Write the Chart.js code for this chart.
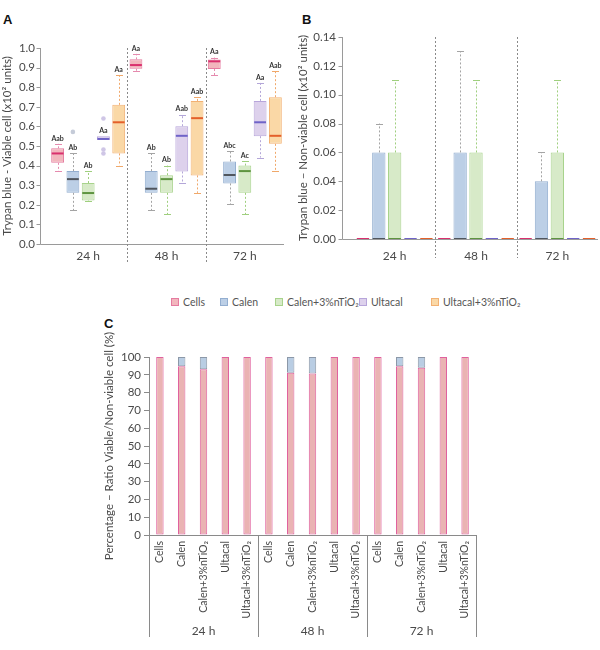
<!DOCTYPE html>
<html>
<head>
<meta charset="utf-8">
<script src="https://cdn.jsdelivr.net/npm/chart.js@4/dist/chart.umd.min.js"></script>
<style>
  body { margin: 0; background: #fff; font-family: Lato, sans-serif; }
  #page { position: relative; width: 600px; height: 650px; overflow: hidden; }
  .holder { position: absolute; }
  .tag { position: absolute; font: bold 13px "Liberation Sans", Arial, sans-serif; color: #111; }
  .key { position: absolute; top: 295px; font-size: 10.5px; color: #555; white-space: nowrap; line-height: 14px; }
  .key i { display: inline-block; width: 6px; height: 6px; border: 1px solid; margin-right: 4px; vertical-align: 0px; }
</style>
</head>
<body>
<div id="page">
  <div class="tag" style="left:3px;top:12px">A</div>
  <div class="tag" style="left:302px;top:12px">B</div>
  <div class="tag" style="left:104px;top:316px">C</div>
  <div class="holder" style="left:0;top:0"><canvas id="viableChart" width="290" height="275"></canvas></div>
  <div class="holder" style="left:295px;top:0"><canvas id="nonViableChart" width="305" height="275"></canvas></div>
  <div id="legend"></div>
  <div class="holder" style="left:0;top:330px"><canvas id="ratioChart" width="600" height="320"></canvas></div>
</div>
<script>
// categories
const timePoints = ['24 h', '48 h', '72 h'];
const groupNames = ['Cells', 'Calen', 'Calen+3%nTiO\u2082', 'Ultacal', 'Ultacal+3%nTiO\u2082'];

// A: viable cells, one row per group, one column per time point
const viableMin = [[0.37, 0.884, 0.862], [0.172, 0.172, 0.202], [0.22, 0.153, 0.153], [0.53, 0.311, 0.441], [0.40, 0.261, 0.372]];
const viableQ1 = [[0.414, 0.894, 0.893], [0.261, 0.261, 0.309], [0.222, 0.261, 0.261], [0.53, 0.37, 0.55], [0.462, 0.35, 0.511]];
const viableMedian = [[0.462, 0.913, 0.932], [0.331, 0.282, 0.352], [0.26, 0.331, 0.372], [0.536, 0.552, 0.621], [0.621, 0.642, 0.552]];
const viableQ3 = [[0.488, 0.942, 0.941], [0.372, 0.372, 0.421], [0.311, 0.351, 0.40], [0.55, 0.601, 0.73], [0.71, 0.73, 0.749]];
const viableMax = [[0.511, 0.97, 0.951], [0.462, 0.462, 0.475], [0.37, 0.40, 0.421], [0.55, 0.66, 0.822], [0.862, 0.75, 0.881]];
const viableOutliers = [[[], [], []], [[0.572], [], []], [[], [], []], [[0.64, 0.482, 0.462], [], []], [[], [], []]];
const viableLetters = [['Aab', 'Aa', 'Aa'], ['Ab', 'Ab', 'Abc'], ['Ab', 'Ab', 'Ac'], ['Aa', 'Aab', 'Aa'], ['Aa', 'Aab', 'Aab']];
const viableTicks = [0, 0.1, 0.2, 0.3, 0.4, 0.5, 0.6, 0.7, 0.8, 0.9, 1.0];

// B: non-viable cells
const nonViableQ1 = [[0, 0, 0], [0, 0, 0], [0, 0, 0], [0, 0, 0], [0, 0, 0]];
const nonViableMedian = [[0, 0, 0], [0, 0, 0], [0, 0, 0], [0, 0, 0], [0, 0, 0]];
const nonViableQ3 = [[0, 0, 0], [0.06, 0.06, 0.04], [0.06, 0.06, 0.06], [0, 0, 0], [0, 0, 0]];
const nonViableMax = [[0, 0, 0], [0.08, 0.13, 0.06], [0.11, 0.11, 0.11], [0, 0, 0], [0, 0, 0]];
const nonViableTicks = [0, 0.02, 0.04, 0.06, 0.08, 0.10, 0.12, 0.14];

// C: percentage viable / non-viable, 15 bars (5 groups x 3 times)
const viablePercent = [100, 94.8, 93.1, 100, 100, 100, 91.2, 90.7, 100, 100, 100, 94.8, 94.0, 100, 100];
const nonViablePercent = [0, 5.2, 6.9, 0, 0, 0, 8.8, 9.3, 0, 0, 0, 5.2, 6.0, 0, 0];
const percentTicks = [0, 10, 20, 30, 40, 50, 60, 70, 80, 90, 100];

// colours per group
const boxFill = ['#f2b6bd', '#bccfe6', '#d7eac8', '#ddd1ec', '#fad8a6'];
const boxEdge = ['#e57ba0', '#93aed0', '#a8d38c', '#b7a5da', '#f2b173'];
const medianColor = ['#d9306d', '#50565e', '#5e9440', '#6f63c8', '#e4602a'];
const whiskerColor = ['#e58aae', '#a4a4a4', '#9fcf7e', '#b3a6d8', '#f0a86a'];
const outlierColor = ['#f2b6bd', '#c5cbd8', '#d7eac8', '#cfc6e6', '#fad8a6'];

const textColor = '#4a4a4a';
const tickFont = { family: 'Lato', size: 11.5 };

Chart.defaults.font.family = 'Lato';
Chart.defaults.color = textColor;
Chart.defaults.animation = false;

// legend
const legend = document.getElementById('legend');
const legendLeft = [171, 220, 275, 359, 431];
groupNames.forEach((name, i) => {
    const el = document.createElement('div');
    el.className = 'key';
    el.style.left = legendLeft[i] + 'px';
    el.innerHTML = '<i style="background:' + boxFill[i] + ';border-color:' + boxEdge[i] + '"></i>' + name;
    legend.appendChild(el);
});

// draws the y axis line a few px left of the plot, tick marks and dashed dividers
const axisFrame = {
    id: 'axisFrame',
    afterDraw(chart, args, o) {
        const { ctx, chartArea: a, scales: { x, y } } = chart;
        const left = a.left - o.gap + 0.5;
        const bottom = Math.round(a.bottom) + 0.5;
        ctx.save();
        ctx.strokeStyle = '#9a9a9a';
        ctx.lineWidth = 1;
        ctx.beginPath();
        ctx.moveTo(left, a.top);
        ctx.lineTo(left, bottom);
        ctx.lineTo(a.right, bottom);
        y.ticks.forEach(t => {
            const py = Math.round(y.getPixelForValue(t.value)) + 0.5;
            ctx.moveTo(left - 4, py);
            ctx.lineTo(left, py);
        });
        ctx.stroke();
        ctx.strokeStyle = '#8a8a8a';
        ctx.setLineDash([2, 2]);
        ctx.beginPath();
        for (let j = 1; j < x.ticks.length; j++) {
            const px = Math.round((x.getPixelForValue(j - 1) + x.getPixelForValue(j)) / 2) + 0.5;
            ctx.moveTo(px, a.top);
            ctx.lineTo(px, a.bottom + 19);
        }
        ctx.stroke();
        ctx.restore();
    }
};

// whiskers, medians, outliers and letters on top of the floating bars
function boxPlugin(stats) {
    return {
        id: 'boxWhisker',
        afterDatasetsDraw(chart) {
            const ctx = chart.ctx;
            const y = chart.scales.y;
            chart.data.datasets.forEach((ds, i) => {
                chart.getDatasetMeta(i).data.forEach((bar, j) => {
                    const x = Math.round(bar.x) + 0.5;
                    const half = bar.width / 2;
                    const q1 = ds.data[j][0], q3 = ds.data[j][1];
                    const lo = stats.min[i][j], hi = stats.max[i][j];
                    ctx.save();
                    ctx.lineWidth = 1;
                    ctx.strokeStyle = whiskerColor[i];
                    ctx.setLineDash([2, 2]);
                    ctx.beginPath();
                    if (hi > q3) { ctx.moveTo(x, y.getPixelForValue(q3)); ctx.lineTo(x, y.getPixelForValue(hi)); }
                    if (lo < q1) { ctx.moveTo(x, y.getPixelForValue(q1)); ctx.lineTo(x, y.getPixelForValue(lo)); }
                    ctx.stroke();
                    ctx.setLineDash([]);
                    ctx.beginPath();
                    [[hi, hi > q3], [lo, lo < q1]].forEach(([v, show]) => {
                        if (!show) return;
                        const py = Math.round(y.getPixelForValue(v)) + 0.5;
                        ctx.moveTo(x - 3.5, py);
                        ctx.lineTo(x + 3.5, py);
                    });
                    ctx.stroke();
                    // median
                    const pm = y.getPixelForValue(stats.median[i][j]);
                    ctx.strokeStyle = medianColor[i];
                    ctx.lineWidth = 2;
                    ctx.beginPath();
                    ctx.moveTo(bar.x - half + 0.5, pm);
                    ctx.lineTo(bar.x + half - 0.5, pm);
                    ctx.stroke();
                    // outliers
                    (stats.outliers ? stats.outliers[i][j] : []).forEach(v => {
                        ctx.beginPath();
                        ctx.arc(bar.x, y.getPixelForValue(v), 2.3, 0, Math.PI * 2);
                        ctx.fillStyle = outlierColor[i];
                        ctx.fill();
                    });
                    // significance letters
                    if (stats.letters) {
                        ctx.fillStyle = '#333';
                        ctx.font = 'bold 7px Lato';
                        ctx.textAlign = 'center';
                        ctx.textBaseline = 'middle';
                        ctx.fillText(stats.letters[i][j], bar.x, y.getPixelForValue(hi) - 5.5);
                    }
                    ctx.restore();
                });
            });
        }
    };
}

function boxDatasets(q1, q3) {
    return groupNames.map((name, i) => ({
        label: name,
        data: timePoints.map((t, j) => [q1[i][j], q3[i][j]]),
        backgroundColor: boxFill[i],
        borderColor: boxEdge[i],
        borderWidth: 1,
        borderSkipped: false,
        categoryPercentage: 0.975,
        barPercentage: 0.84
    }));
}

function boxOptions(cfg) {
    return {
        responsive: false,
        layout: { padding: cfg.padding },
        plugins: {
            legend: { display: false },
            tooltip: { enabled: false },
            axisFrame: { gap: cfg.gap }
        },
        scales: {
            x: {
                grid: { display: false, drawTicks: false },
                border: { display: false },
                ticks: { font: { family: 'Lato', size: 12 }, color: textColor, padding: cfg.xPad },
                afterFit: s => { s.height = cfg.xHeight; }
            },
            y: {
                min: cfg.ticks[0],
                max: cfg.ticks[cfg.ticks.length - 1],
                grid: { display: false, drawTicks: false },
                border: { display: false },
                afterBuildTicks: s => { s.ticks = cfg.ticks.map(v => ({ value: v })); },
                ticks: {
                    font: tickFont, color: textColor, padding: cfg.yPad,
                    callback: v => v.toFixed(cfg.decimals)
                },
                title: { display: true, text: cfg.title, font: { size: 11.5 }, color: textColor, padding: { top: 0, bottom: 0 } },
                afterFit: s => { s.width = cfg.yWidth; }
            }
        }
    };
}

new Chart(document.getElementById('viableChart'), {
    type: 'bar',
    data: { labels: timePoints, datasets: boxDatasets(viableQ1, viableQ3) },
    options: boxOptions({
        padding: { top: 48, right: 6, left: 0 },
        gap: 9, xPad: 5, xHeight: 31, yPad: 14, yWidth: 49, decimals: 1,
        ticks: viableTicks, title: 'Trypan blue - Viable cell (x10\u00b2 units)'
    }),
    plugins: [axisFrame, boxPlugin({ min: viableMin, max: viableMax, median: viableMedian, outliers: viableOutliers, letters: viableLetters })]
});

new Chart(document.getElementById('nonViableChart'), {
    type: 'bar',
    data: { labels: timePoints, datasets: boxDatasets(nonViableQ1, nonViableQ3) },
    options: boxOptions({
        padding: { top: 37, right: 2, left: 1 },
        gap: 12, xPad: 10, xHeight: 36, yPad: 18, yWidth: 58, decimals: 2,
        ticks: nonViableTicks, title: 'Trypan blue \u2013 Non-viable cell (x10\u00b2 units)'
    }),
    plugins: [axisFrame, boxPlugin({ min: nonViableQ1, max: nonViableMax, median: nonViableMedian })]
});

// vertical separators under the grouped x axis of panel C
const groupSeparators = {
    id: 'groupSeparators',
    afterDraw(chart) {
        const { ctx, chartArea: a, scales: { x, x2 } } = chart;
        const per = groupNames.length;
        ctx.save();
        ctx.strokeStyle = '#8a8a8a';
        ctx.lineWidth = 1;
        ctx.beginPath();
        for (let g = 0; g <= timePoints.length; g++) {
            let px;
            if (g === 0) px = a.left;
            else if (g === timePoints.length) px = a.right;
            else px = (x.getPixelForValue(g * per - 1) + x.getPixelForValue(g * per)) / 2;
            px = Math.round(px) + 0.5;
            ctx.moveTo(px, a.bottom);
            ctx.lineTo(px, x2.bottom - 13);
        }
        ctx.stroke();
        ctx.restore();
    }
};

new Chart(document.getElementById('ratioChart'), {
    type: 'bar',
    data: {
        labels: timePoints.flatMap(() => groupNames),
        datasets: [
            { label: 'Viable', data: viablePercent, backgroundColor: '#eab3b3', borderColor: '#e0619e', borderWidth: 1, borderSkipped: false },
            { label: 'Non-viable', data: nonViablePercent, backgroundColor: '#b9cde3', borderColor: '#8c98a8', borderWidth: 1, borderSkipped: false }
        ]
    },
    options: {
        responsive: false,
        layout: { padding: { top: 27, left: 90, right: 124 } },
        datasets: { bar: { categoryPercentage: 1, barPercentage: 0.34 } },
        plugins: { legend: { display: false }, tooltip: { enabled: false } },
        scales: {
            x: {
                stacked: true,
                weight: 0,
                grid: { display: false, drawTicks: false },
                border: { display: true, color: '#8a8a8a' },
                ticks: { font: { family: 'Lato', size: 10.5 }, color: textColor, autoSkip: false, minRotation: 90, maxRotation: 90, padding: 6 },
                afterFit: s => { s.height = 88; }
            },
            x2: {
                type: 'category',
                position: 'bottom',
                weight: 1,
                labels: timePoints,
                offset: true,
                grid: { display: false, drawTicks: false },
                border: { display: false },
                ticks: { font: { family: 'Lato', size: 12 }, color: textColor, padding: 1 },
                afterFit: s => { s.height = 27; }
            },
            y: {
                stacked: true,
                min: 0,
                max: 100,
                afterBuildTicks: s => { s.ticks = percentTicks.map(v => ({ value: v })); },
                grid: { drawOnChartArea: false, tickLength: 5, color: '#8a8a8a' },
                border: { color: '#8a8a8a' },
                ticks: { font: tickFont, color: textColor, padding: 3 },
                title: { display: true, text: 'Percentage \u2013 Ratio Viable/Non-viable cell (%)', font: { size: 11.5 }, color: textColor, padding: { top: 12, bottom: 0 } },
                afterFit: s => { s.width = 59; }
            }
        }
    },
    plugins: [groupSeparators]
});
</script>
</body>
</html>
